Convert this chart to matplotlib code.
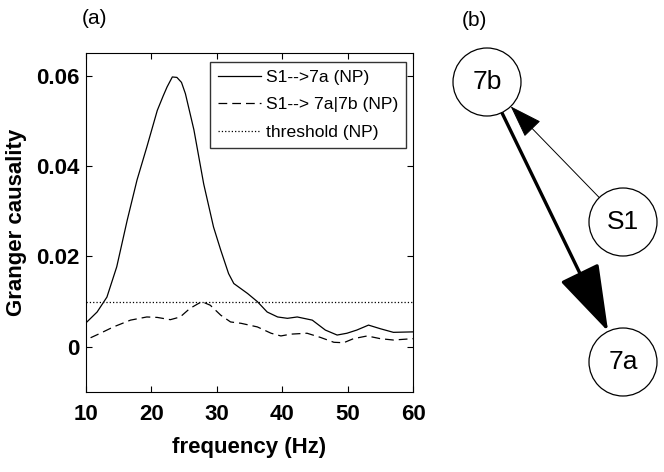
import numpy as np
import matplotlib
matplotlib.use('Agg')
import matplotlib.pyplot as plt
from matplotlib.patches import Circle, FancyArrowPatch

plt.rcParams['font.family'] = ['Liberation Sans', 'DejaVu Sans']

# ---------------- データ ----------------
# S1 -> 7a (NP)
freq_direct = [10, 11.7, 13.2, 14.7, 16.3, 17.8, 19.3, 20.9, 21.8, 22.4, 23.2, 23.9,
               24.6, 25.2, 26.5, 28, 29.5, 30.6, 31.8, 32.6, 34.7, 36.2, 37.7, 39.3,
               40.8, 42.3, 44.6, 46.6, 48.4, 49.9, 51.4, 53.2, 55, 57, 60]
gc_direct = [0.0053, 0.0077, 0.011, 0.0177, 0.028, 0.0369, 0.0442, 0.0523, 0.0555,
             0.0575, 0.0597, 0.0596, 0.0585, 0.056, 0.048, 0.036, 0.0265, 0.0214,
             0.0162, 0.014, 0.0118, 0.010, 0.0077, 0.0066, 0.0063, 0.0066, 0.0059,
             0.0037, 0.0026, 0.003, 0.0037, 0.0048, 0.004, 0.0032, 0.0033]

# S1 -> 7a|7b (NP)
freq_cond = [10.7, 12.2, 14.2, 16.8, 19.3, 20.9, 22.9, 24.4, 25.9, 27.7, 29, 30.6,
             32.1, 33.7, 36.2, 38.3, 39.8, 41.3, 43.8, 45.8, 47.9, 49.4, 50.9, 53,
             55, 57, 60]
gc_cond = [0.002, 0.003, 0.0044, 0.0059, 0.0066, 0.0065, 0.006, 0.0066, 0.0085,
           0.010, 0.0092, 0.007, 0.0055, 0.0052, 0.0044, 0.003, 0.0024, 0.0028,
           0.003, 0.0021, 0.001, 0.0009, 0.0018, 0.0024, 0.0018, 0.0015, 0.0018]

threshold = 0.01

x_ticks = [10, 20, 30, 40, 50, 60]
y_ticks = [0, 0.02, 0.04, 0.06]
y_ticklabels = ['0', '0.02', '0.04', '0.06']

# (b) のネットワーク
node_names = ['7b', 'S1', '7a']
edges = [('7b', '7a'), ('S1', '7b')]   # (始点, 終点)

# ---------------- レイアウト ----------------
W, H = 664, 472
node_pos = {'7b': (487, 82), 'S1': (623, 222), '7a': (623, 362)}  # ピクセル
node_r = 34
edge_style = {('7b', '7a'): dict(lw=2.4, hl=1.0, hw=0.32),
              ('S1', '7b'): dict(lw=0.7, hl=0.5, hw=0.17)}

fig = plt.figure(figsize=(W / 100, H / 100), dpi=100)

# ---------------- (a) ----------------
ax = fig.add_axes([86 / W, 1 - 392 / H, (413 - 86) / W, (392 - 53) / H])
ax.plot(freq_direct, gc_direct, 'k-', lw=0.9, label='S1-->7a (NP)')
ax.plot(freq_cond, gc_cond, 'k--', lw=0.9, dashes=(7, 4), label='S1--> 7a|7b (NP)')
ax.axhline(threshold, color='k', ls=':', lw=0.9, label='threshold (NP)')
ax.set_xlim(10, 60)
ax.set_ylim(-0.01, 0.065)
ax.set_xticks(x_ticks)
ax.set_yticks(y_ticks)
ax.set_yticklabels(y_ticklabels)
ax.tick_params(direction='in', top=True, right=True, labelsize=16, length=4)
ax.tick_params(axis='x', pad=9)
ax.tick_params(axis='y', pad=5)
for lab in ax.get_xticklabels() + ax.get_yticklabels():
    lab.set_fontweight('bold')
ax.set_xlabel('frequency (Hz)', fontsize=16, fontweight='bold', labelpad=8)
ax.set_ylabel('Granger causality', fontsize=16, fontweight='bold', labelpad=6)
leg = ax.legend(loc='upper right', fontsize=12.6, frameon=True, fancybox=False,
                handlelength=2.5, borderaxespad=0.3, labelspacing=0.7,
                handletextpad=0.25, borderpad=0.45, bbox_to_anchor=(0.995, 0.99))
leg.get_frame().set_edgecolor('k')
leg.get_frame().set_linewidth(1.0)
fig.text(94 / W, 1 - 18 / H, '(a)', fontsize=15, ha='center', va='center')

# ---------------- (b) ----------------
axb = fig.add_axes([0, 0, 1, 1])
axb.set_xlim(0, W)
axb.set_ylim(H, 0)
axb.axis('off')
fig.text(474 / W, 1 - 21 / H, '(b)', fontsize=15, ha='center', va='center')

for name in node_names:
    cx, cy = node_pos[name]
    axb.add_patch(Circle((cx, cy), node_r, fc='white', ec='k', lw=0.9, zorder=3))
    axb.text(cx, cy, name, fontsize=19, ha='center', va='center', zorder=4)

for (src, dst) in edges:
    x0, y0 = node_pos[src]
    x1, y1 = node_pos[dst]
    d = np.hypot(x1 - x0, y1 - y0)
    ux, uy = (x1 - x0) / d, (y1 - y0) / d
    st = edge_style[(src, dst)]
    arr = FancyArrowPatch((x0 + ux * node_r, y0 + uy * node_r),
                          (x1 - ux * node_r, y1 - uy * node_r),
                          arrowstyle='-|>,head_length=%g,head_width=%g' % (st['hl'], st['hw']),
                          mutation_scale=42, lw=st['lw'], color='k',
                          shrinkA=0, shrinkB=0, zorder=2)
    axb.add_patch(arr)

fig.savefig('out.png', dpi=100)
